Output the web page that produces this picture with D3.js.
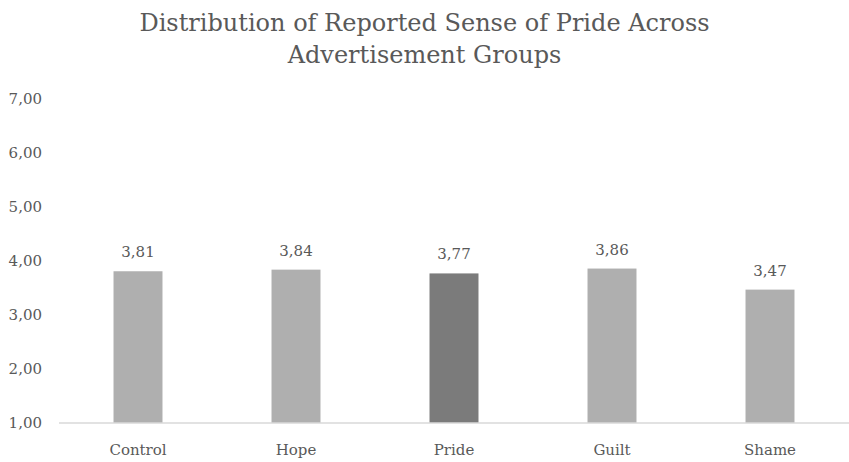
<!DOCTYPE html>
<html><head><meta charset="utf-8">
<script src="https://cdn.jsdelivr.net/npm/d3@7"></script>
<style>body{margin:0;background:#fff}svg{display:block}
svg text{font-family:"DejaVu Serif",serif}</style>
</head><body>
<svg id="c" width="849" height="462"></svg>
<script>
const categories = ["Control","Hope","Pride","Guilt","Shame"];
const values = [3.81,3.84,3.77,3.86,3.47];
const yTicks = [1,2,3,4,5,6,7];
const titleLines = ["Distribution of Reported Sense of Pride Across","Advertisement Groups"];
const highlight = "Pride";

(function(){
const svg = d3.select("#c");
const textCol = "#595959";
const mLeft = 59, mRight = 849, mTop = 99, mBottom = 423;

const x = d3.scaleBand().domain(categories).range([mLeft,mRight]).paddingInner(0.69).paddingOuter(0.345);
const y = d3.scaleLinear().domain([1,7]).range([mBottom,mTop]);
const fmt = v => d3.format(".2f")(v).replace(".",",");

svg.append("g").selectAll("text").data(titleLines).join("text")
  .attr("x",424.5).attr("y",(d,i)=>31+i*32).attr("text-anchor","middle")
  .attr("font-size",24).attr("fill",textCol).text(d=>d);

const yAxis = d3.axisLeft(y).tickValues(yTicks).tickFormat(fmt).tickSize(0).tickPadding(17);
const gy = svg.append("g").attr("transform",`translate(${mLeft},0)`).call(yAxis);
gy.attr("font-family",null).attr("font-size",null);
gy.select(".domain").remove();
gy.selectAll("text").attr("font-size",15).attr("fill",textCol);

svg.append("g").selectAll("rect").data(categories).join("rect")
  .attr("x",d=>x(d)).attr("width",x.bandwidth())
  .attr("y",(d,i)=>y(values[i])).attr("height",(d,i)=>y(1)-y(values[i]))
  .attr("fill",d=>d===highlight?"#7b7b7b":"#afafaf");

const xAxis = d3.axisBottom(x).tickSize(0).tickPadding(0);
const gx = svg.append("g").attr("transform",`translate(0,${mBottom})`).call(xAxis);
gx.attr("font-family",null).attr("font-size",null);
gx.select(".domain").attr("stroke","#d9d9d9").attr("stroke-width",1.5).attr("d",`M${mLeft},0H${mRight}`);
gx.selectAll("text").attr("font-size",15).attr("fill",textCol)
  .attr("dy",null).attr("y",32);

svg.append("g").selectAll("text").data(categories).join("text")
  .attr("x",d=>x(d)+x.bandwidth()/2).attr("y",(d,i)=>y(values[i])-14)
  .attr("text-anchor","middle").attr("font-size",15).attr("fill",textCol)
  .text((d,i)=>fmt(values[i]));
})();
</script>
</body></html>
